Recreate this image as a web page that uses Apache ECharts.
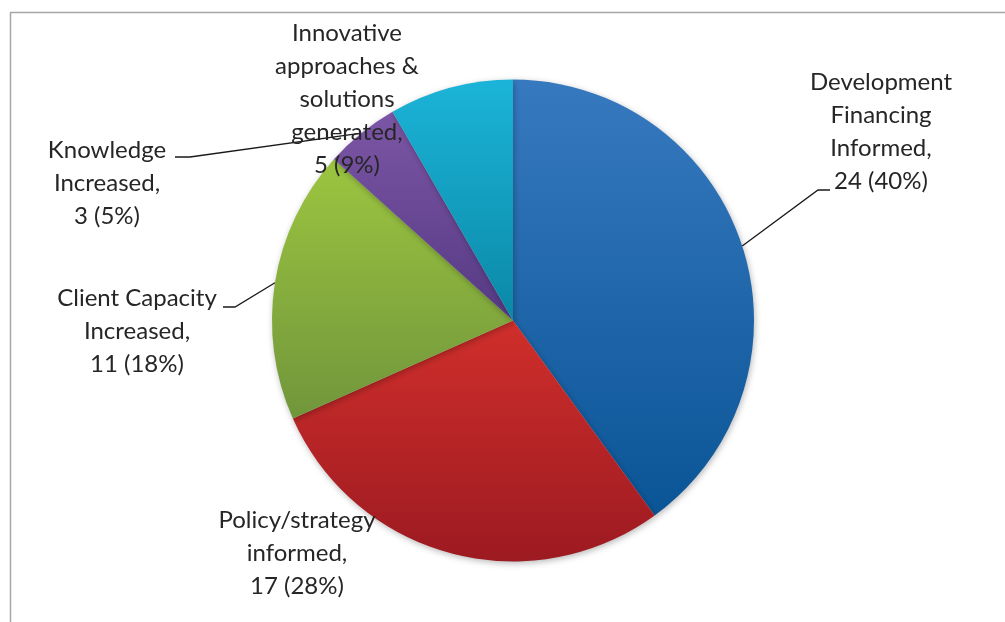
<!DOCTYPE html>
<html>
<head>
<meta charset="utf-8">
<title>Outcomes by type</title>
<script src="https://cdn.jsdelivr.net/npm/echarts@6/dist/echarts.min.js"></script>
<style>
  html, body { margin: 0; padding: 0; background: #ffffff; }
  #chart { width: 1005px; height: 622px; }
</style>
</head>
<body>
<div id="chart"></div>
<script>
// Outcome categories (label text wrapped as shown on the chart)
const categories = [
  'Development\nFinancing\nInformed',
  'Policy/strategy\ninformed',
  'Client Capacity\nIncreased',
  'Knowledge\nIncreased',
  'Innovative\napproaches &\nsolutions\ngenerated'
];
// Number of outcomes per category
const counts = [24, 17, 11, 3, 5];
// Percentages as printed on the labels
const percents = [40, 28, 18, 5, 9];

// Slice shading: top colour, bottom colour
const sliceColors = [
  ['#3779bf', '#0a5596'],
  ['#d02f2b', '#9c1a21'],
  ['#9cc540', '#70963b'],
  ['#7c56a6', '#553983'],
  ['#1bb4d8', '#0b88a6']
];

// Label placement: [centre x, centre y, elbow x, elbow y, end x] (end y = elbow y); null = no leader
const labelPlacement = [
  { x: 881, y: 132, line: [818, 190, 830] },
  { x: 297, y: 553, line: null },
  { x: 137, y: 331, line: [235, 307, 223] },
  { x: 107, y: 183, line: [190, 157, 175] },
  { x: 347, y: 99, line: null }
];

const chart = echarts.init(document.getElementById('chart'), null, { renderer: 'canvas' });

const data = categories.map((name, i) => ({
  name: name,
  value: counts[i],
  itemStyle: {
    color: new echarts.graphic.LinearGradient(0, 0, 0, 1, [
      { offset: 0, color: sliceColors[i][0] },
      { offset: 1, color: sliceColors[i][1] }
    ])
  },
  labelLine: { show: labelPlacement[i].line !== null }
}));

chart.setOption({
  animation: false,
  backgroundColor: '#ffffff',
  graphic: [{
    type: 'rect',
    shape: { x: 10.5, y: 12.5, width: 1010, height: 630 },
    style: { fill: 'none', stroke: '#a6a6a6', lineWidth: 1.5 },
    silent: true
  }],
  series: [{
    type: 'pie',
    center: [513, 320.5],
    radius: 241,
    startAngle: 90,
    clockwise: true,
    avoidLabelOverlap: false,
    itemStyle: {
      borderWidth: 0,
      shadowBlur: 6,
      shadowOffsetX: 1,
      shadowOffsetY: 2,
      shadowColor: 'rgba(0,0,0,0.28)'
    },
    label: {
      show: true,
      position: 'outside',
      fontFamily: 'Lato, "Liberation Sans", sans-serif',
      fontSize: 24,
      lineHeight: 33,
      color: '#262626',
      align: 'center',
      formatter: p => p.name + ',\n' + counts[p.dataIndex] + ' (' + percents[p.dataIndex] + '%)'
    },
    labelLine: {
      show: true,
      length: 20,
      length2: 10,
      smooth: false,
      lineStyle: { color: '#1a1a1a', width: 1.3 }
    },
    labelLayout: function (params) {
      const lp = labelPlacement[params.dataIndex];
      const out = { x: lp.x, y: lp.y, align: 'center', verticalAlign: 'middle' };
      if (lp.line && params.labelLinePoints) {
        const start = params.labelLinePoints[0];
        out.labelLinePoints = [
          [start[0], start[1]],
          [lp.line[0], lp.line[1]],
          [lp.line[2], lp.line[1]]
        ];
      }
      return out;
    },
    data: data
  }]
});
</script>
</body>
</html>
